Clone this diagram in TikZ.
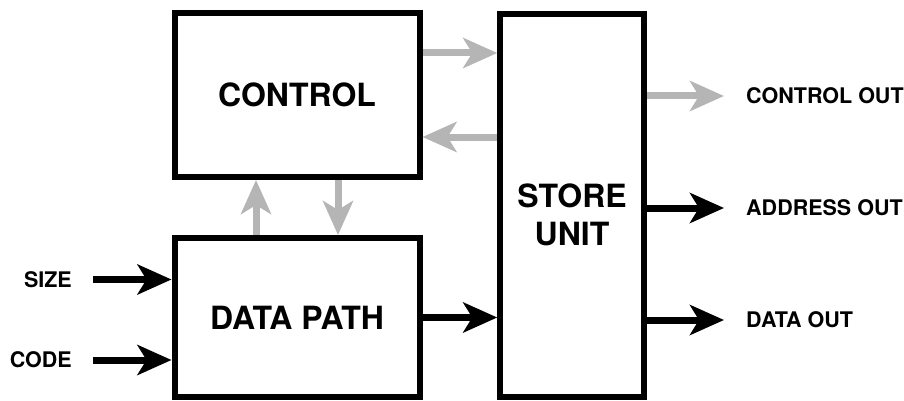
\documentclass[tikz,border=0pt]{standalone}
\usepackage{fontspec}
\setmainfont{TeX Gyre Heros}
\usetikzlibrary{arrows.meta}
\definecolor{linkgray}{gray}{0.71}
\begin{document}
\begin{tikzpicture}[x=1pt,y=-1pt,
  block/.style={draw,line width=6pt,inner sep=0pt,font=\fontsize{32}{38}\selectfont\bfseries},
  sig/.style={line width=7pt,-{Stealth[length=34pt,width=30pt,inset=9pt]}},
  ctl/.style={sig,linkgray},
  lbl/.style={inner sep=0pt,font=\fontsize{21.5}{24}\selectfont\bfseries}]
\useasboundingbox (0,0) rectangle (904,401);
\begin{scope}
\node[block,minimum width=245pt,minimum height=164pt] (control) at (297,95) {CONTROL};
\node[block,minimum width=245pt,minimum height=159pt] (datapath) at (297,317.5) {DATA PATH};
\node[block,minimum width=143.5pt,minimum height=383.5pt] (store) at (572,205.3) {};
\node[inner sep=0pt,align=center,font=\fontsize{32}{38}\selectfont\bfseries] (storetext) at ([yshift=-10pt]store.center) {STORE\\UNIT};
\end{scope}
\begin{scope}
\node[lbl,anchor=east] (size) at (72,279.5) {SIZE};
\node[lbl,anchor=east] (code) at (72,360) {CODE};
\node[lbl,anchor=west] (ctrlout) at (746,96) {CONTROL OUT};
\node[lbl,anchor=west] (addrout) at (746,208) {ADDRESS OUT};
\node[lbl,anchor=west] (dataout) at (746,320) {DATA OUT};
\end{scope}
\begin{scope}
\draw[ctl] ([yshift=42pt]control.east) -- ([yshift=42pt]control.east -| store.west);
\draw[ctl] ([yshift=-42pt]control.east -| store.west) -- ([yshift=-42pt]control.east);
\draw[ctl] ([xshift=-41pt]datapath.north) -- ([xshift=-41pt]datapath.north |- control.south);
\draw[ctl] ([xshift=41pt]control.south) -- ([xshift=41pt]control.south |- datapath.north);
\draw[ctl] (store.east |- ctrlout) -- ([xshift=-22pt]ctrlout.west);
\end{scope}
\begin{scope}
\draw[sig] ([xshift=21pt]size.east) -- (size -| datapath.west);
\draw[sig] ([xshift=21pt]code.east) -- (code -| datapath.west);
\draw[sig] (datapath.east) -- (datapath.east -| store.west);
\draw[sig] (store.east |- addrout) -- ([xshift=-22pt]addrout.west);
\draw[sig] (store.east |- dataout) -- ([xshift=-22pt]dataout.west);
\end{scope}
\end{tikzpicture}
\end{document}
